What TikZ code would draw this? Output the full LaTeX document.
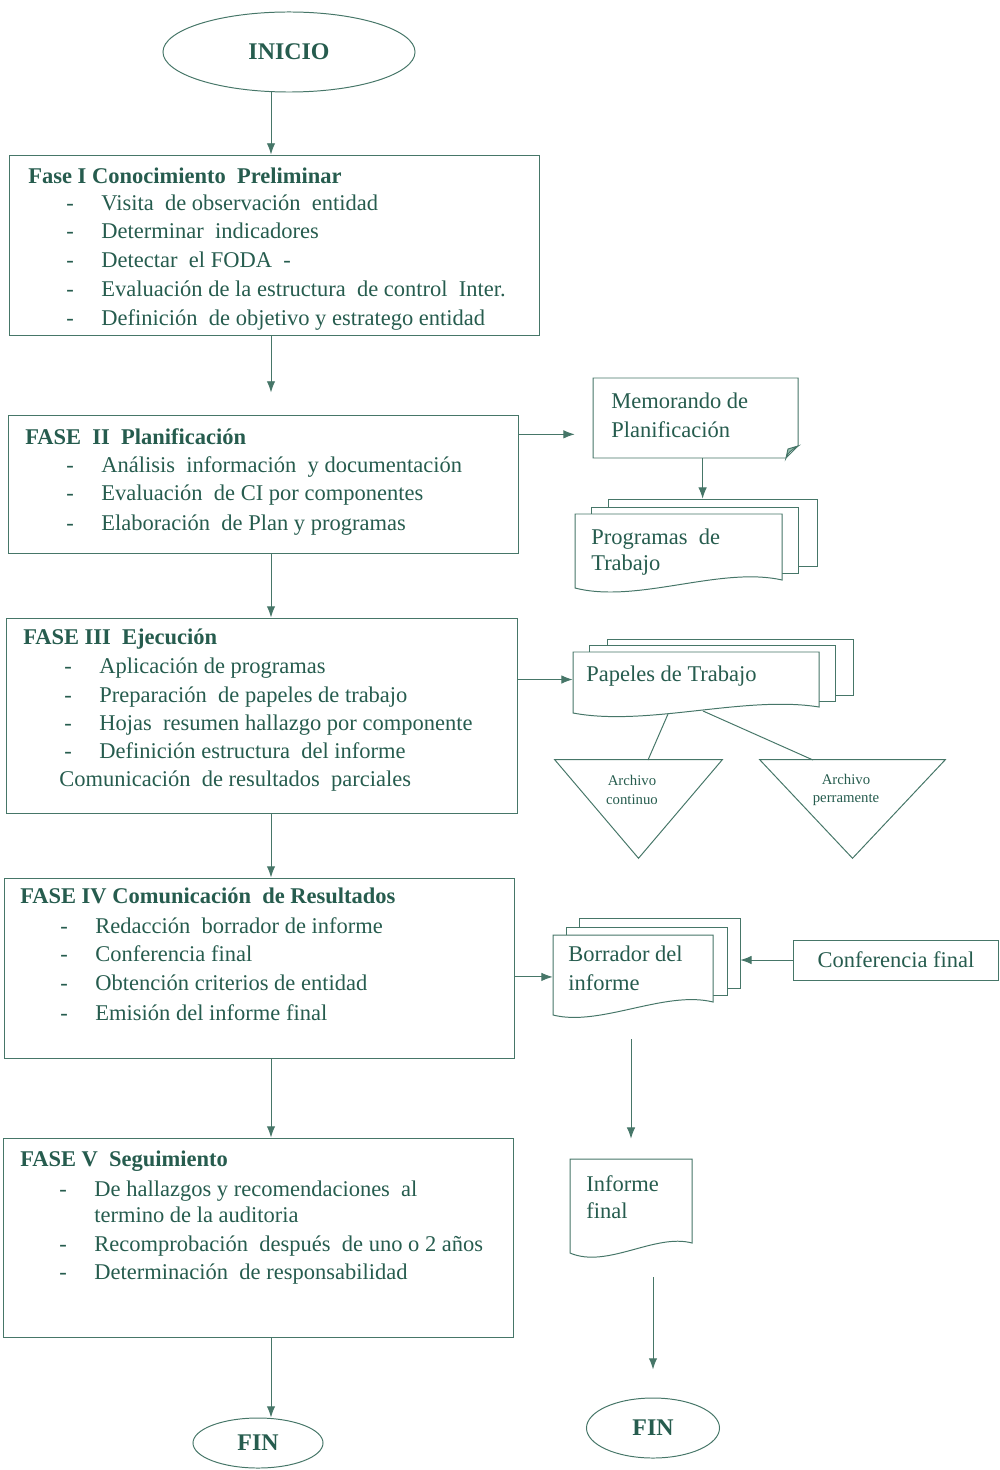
\documentclass[tikz,border=0pt]{standalone}
\usepackage{fontspec}
\setmainfont{Liberation Serif}
\usetikzlibrary{shapes.geometric,arrows.meta,fit}
\definecolor{tinta}{RGB}{38,92,78}
\definecolor{trazo}{RGB}{70,118,104}
\definecolor{pliegue}{RGB}{150,190,175}
\def\guion{\makebox[0.88cm][l]{-}}

\begin{document}
\begin{tikzpicture}[x=0.025cm, y=-0.025cm,
  linea/.style={draw=trazo, line width=0.7pt},
  flecha/.style={linea, -{Latex[length=8pt,width=6pt]}},
  hoja/.style={linea, fill=white},
  marco/.style={draw=trazo, line width=0.7pt, inner sep=0pt},
  ancla/.style={draw=none, inner sep=0pt},
  extremo/.style={ellipse, draw=trazo, line width=0.7pt, inner sep=0pt, text=tinta, font=\fontsize{17}{20}\selectfont\bfseries},
  texto/.style={anchor=base west, inner sep=0pt, text=tinta, font=\fontsize{16}{20}\selectfont},
  titulo/.style={texto, font=\fontsize{16}{20}\selectfont\bfseries},
  chico/.style={inner sep=0pt, text=tinta, align=center, font=\fontsize{10.5}{13}\selectfont}]
\useasboundingbox (0,0) rectangle (999,1470);

% spine of the main flow
\coordinate (eje) at (271,0);

% start
\node [extremo, minimum width=6.3cm, minimum height=2cm] (inicio) at (289,52) {INICIO};

% Fase I
\node [marco, fit={(9,155) (539,335)}] (f1) {};
\node [titulo] (f1t) at (28,184) {Fase I Conocimiento \ Preliminar};
\node [texto] (f1a) at (66,211) {\guion Visita \ de observación \ entidad};
\node [texto] (f1b) at (66,239) {\guion Determinar \ indicadores};
\node [texto] (f1c) at (66,268) {\guion Detectar \ el FODA \ -};
\node [texto] (f1d) at (66,297) {\guion Evaluación de la estructura \ de control \ Inter.};
\node [texto] (f1e) at (66,325) {\guion Definición \ de objetivo y estratego entidad};

% Fase II
\node [marco, fit={(8,415) (518,553)}] (f2) {};
\node [titulo] (f2t) at (25,444) {FASE \ II \ Planificación};
\node [texto] (f2a) at (66,472) {\guion Análisis \ información \ y documentación};
\node [texto] (f2b) at (66,500) {\guion Evaluación \ de CI por componentes};
\node [texto] (f2c) at (66,530) {\guion Elaboración \ de Plan y programas};

% Fase III
\node [marco, fit={(6,618) (517,813)}] (f3) {};
\node [titulo] (f3t) at (23,644) {FASE III \ Ejecución};
\node [texto] (f3a) at (64,673) {\guion Aplicación de programas};
\node [texto] (f3b) at (64,702) {\guion Preparación \ de papeles de trabajo};
\node [texto] (f3c) at (64,730) {\guion Hojas \ resumen hallazgo por componente};
\node [texto] (f3d) at (64,758) {\guion Definición estructura \ del informe};
\node [texto] (f3e) at (59,786) {Comunicación \ de resultados \ parciales};

% Fase IV
\node [marco, fit={(4,878) (514,1058)}] (f4) {};
\node [titulo] (f4t) at (20,903) {FASE IV Comunicación \ de Resultados};
\node [texto] (f4a) at (60,933) {\guion Redacción \ borrador de informe};
\node [texto] (f4b) at (60,961) {\guion Conferencia final};
\node [texto] (f4c) at (60,990) {\guion Obtención criterios de entidad};
\node [texto] (f4d) at (60,1020) {\guion Emisión del informe final};

% Fase V
\node [marco, fit={(3,1138) (513,1337)}] (f5) {};
\node [titulo] (f5t) at (20,1166) {FASE V \ Seguimiento};
\node [texto] (f5a) at (59,1196) {\guion De hallazgos y recomendaciones \ al};
\node [texto] (f5b) at (94,1222) {termino de la auditoria};
\node [texto] (f5c) at (59,1251) {\guion Recomprobación \ después \ de uno o 2 años};
\node [texto] (f5d) at (59,1279) {\guion Determinación \ de responsabilidad};

% end of the main flow
\node [extremo, minimum width=3.25cm, minimum height=1.25cm] (finA) at (258,1443) {FIN};

% main flow arrows
\draw [flecha] (eje |- inicio.south) -- (eje |- f1.north);
\draw [flecha, shorten >=0.55cm] (eje |- f1.south) -- (eje |- f2.north);
\draw [flecha] (eje |- f2.south) -- (eje |- f3.north);
\draw [flecha] (eje |- f3.south) -- (eje |- f4.north);
\draw [flecha] (eje |- f4.south) -- (eje |- f5.north);
\draw [flecha] (eje |- f5.south) -- (eje |- finA.north);

% memorando (page with curled corner)
\draw [hoja] (593,378) -- (798,378) -- (798,446) -- (786,458) -- (593,458) -- cycle;
\filldraw [linea, fill=pliegue] (786,458) .. controls (789,452) .. (798,446) -- (788,449) -- cycle;
\node [ancla, fit={(593,378) (798,458)}] (memo) {};
\node [texto] (memoa) at (611,408) {Memorando de};
\node [texto] (memob) at (611,437) {Planificación};

% programas de trabajo (stack)
\draw [hoja] (608,499) rectangle (817,566);
\draw [hoja] (591,507) rectangle (798,573);
\draw [hoja] (575,514) -- (782,514) -- (782,580) .. controls (720,566) and (637,604) .. (575,588) -- cycle;
\node [ancla, fit={(575,499) (817,596)}] (prog) {};
\node [texto] (proga) at (591,544) {Programas \ de};
\node [texto] (progb) at (591,570) {Trabajo};

% papeles de trabajo (stack)
\draw [hoja] (607,639) rectangle (853,695);
\draw [hoja] (589,645) rectangle (835,701);
\draw [hoja] (573,652) -- (819,652) -- (819,707) .. controls (745,695) and (647,727) .. (573,713) -- cycle;
\node [ancla, fit={(573,639) (853,719)}] (pap) {};
\node [texto] (papa) at (586,681) {Papeles de Trabajo};

% archivos
\node [ancla, fit={(555,760) (722,858)}] (ac) {};
\draw [linea] (ac.north west) -- (ac.north east) -- (ac.south) -- cycle;
\node [chico] (acl) at (632,790) {Archivo\\continuo};
\node [ancla, fit={(760,760) (945,858)}] (ap) {};
\draw [linea] (ap.north west) -- (ap.north east) -- (ap.south) -- cycle;
\node [chico] (apl) at (846,790) {Archivo\\perramente};
\coordinate (pa1) at (668,714);
\coordinate (pa2) at (703,711);
\coordinate (ac1) at (648,760);
\coordinate (ap1) at (813,760);
\draw [linea] (pa1) -- (ac1);
\draw [linea] (pa2) -- (ap1);

% borrador del informe (stack)
\draw [hoja] (579,918) rectangle (740,988);
\draw [hoja] (566,927) rectangle (727,995);
\draw [hoja] (553,935) -- (713,935) -- (713,1002) .. controls (665,990) and (600,1027) .. (553,1015) -- cycle;
\node [ancla, fit={(553,918) (740,1019)}] (bor) {};
\node [texto] (bora) at (568,961) {Borrador del};
\node [texto] (borb) at (568,990) {informe};

% conferencia final
\node [marco, minimum width=5.1cm, minimum height=1cm, text=tinta, font=\fontsize{16}{20}\selectfont] (conf) at (896,960) {Conferencia final};

% informe final
\draw [hoja] (570,1159) -- (692,1159) -- (692,1243) .. controls (655,1233) and (607,1269) .. (570,1253) -- cycle;
\node [ancla, fit={(570,1159) (692,1259)}] (inf) {};
\node [texto] (infa) at (586,1191) {Informe};
\node [texto] (infb) at (586,1218) {final};

% end of the document flow
\node [extremo, minimum width=3.325cm, minimum height=1.5cm] (finB) at (653,1428) {FIN};

% side arrows
\draw [flecha, shorten >=0.45cm] (f2.11) -- (f2.11 -| memo.west);
\draw [flecha] (memo.-80) -- (memo.-80 |- prog.north);
\draw [flecha] (f3.8) -- (f3.8 -| pap.west);
\draw [flecha] (f4.-2) -- (f4.-2 -| bor.west);
\draw [flecha] (conf.west) -- (conf.west -| bor.east);
\draw [flecha, shorten <=0.5cm, shorten >=0.5cm] (inf.north |- bor.south) -- (inf.north);
\draw [flecha, shorten <=0.45cm, shorten >=0.7cm] (finB.north |- inf.south) -- (finB.north);

\end{tikzpicture}
\end{document}
